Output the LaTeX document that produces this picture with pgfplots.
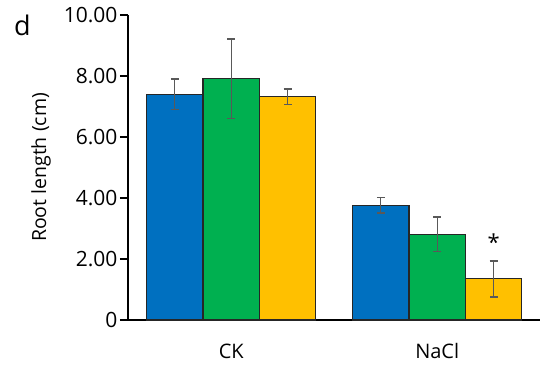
\documentclass[border=0pt]{standalone}
\usepackage{fontspec}
\setmainfont{Open Sans}
\usepackage{pgfplots}
\pgfplotsset{compat=1.18}
\definecolor{barblue}{HTML}{0070C0}
\definecolor{bargreen}{HTML}{00B050}
\definecolor{baryellow}{HTML}{FFC000}
\definecolor{errgray}{HTML}{595959}
\begin{document}
\begin{tikzpicture}
\begin{axis}[
  name=ax,
  at={(0,0)}, anchor=south west,
  scale only axis,
  width=412pt, height=305pt,
  xmin=-0.501, xmax=1.499,
  ymin=0, ymax=10,
  axis lines=left,
  axis line style={black, line width=1.2pt, -},
  ybar=0pt,
  bar width=0.274,
  xtick={0,1},
  xticklabels={CK,NaCl},
  x tick label style={font=\fontsize{20}{22}\selectfont, yshift=-12pt},
  major x tick style={draw=none},
  ytick={0,2,4,6,8,10},
  yticklabels={0,2.00,4.00,6.00,8.00,10.00},
  y tick label style={font=\fontsize{21}{24}\selectfont, xshift=1pt},
  ytick style={black, line width=1.2pt},
  tick align=outside,
  major tick length=8pt,
  ylabel={Root length (cm)},
  every axis y label/.style={at={(rel axis cs:0,0.5)}, rotate=90, anchor=center,
    yshift=87pt, font=\fontsize{19.5}{22}\selectfont},
  error bars/y dir=both,
  error bars/y explicit,
  error bars/error bar style={errgray, line width=1.4pt},
  error bars/error mark options={errgray, rotate=90, mark size=4pt, line width=1.4pt},
  clip=false,
]
% control (CK) and salt (NaCl) treatments
\addplot[fill=barblue, draw=black!85, line width=1.1pt]
  coordinates {(0,7.40) +- (0,0.50) (1,3.76) +- (0,0.25)};
\addplot[fill=bargreen, draw=black!85, line width=1.1pt]
  coordinates {(0,7.91) +- (0,1.30) (1,2.81) +- (0,0.57)};
\addplot[fill=baryellow, draw=black!85, line width=1.1pt]
  coordinates {(0,7.32) +- (0,0.25) (1,1.35) +- (0,0.59)};
\node[font=\fontsize{22}{24}\selectfont] at (axis cs:1.274,2.55) {*};
\end{axis}
\node[anchor=west, inner sep=0pt, font=\fontsize{27}{28}\selectfont] at (-114pt,295pt) {d};
\pgfresetboundingbox
\path (-128pt,-45pt) rectangle (413pt,320pt);
\end{tikzpicture}
\end{document}
